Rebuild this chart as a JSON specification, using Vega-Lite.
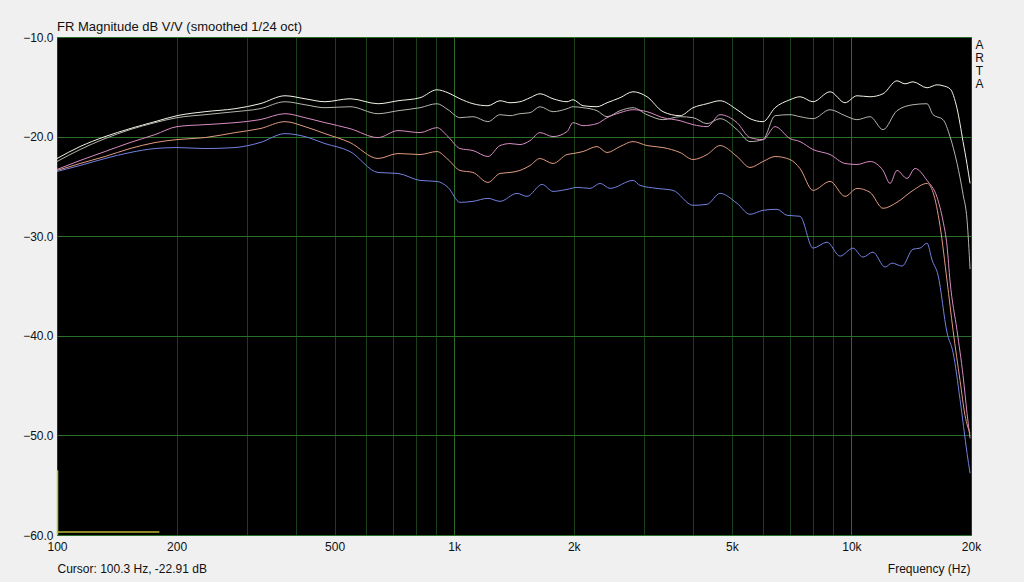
{
  "$schema": "https://vega.github.io/schema/vega-lite/v6.json",
  "autosize": {"type": "none"},
  "padding": {"left": 57, "top": 37, "right": 53, "bottom": 47},
  "width": 914,
  "height": 498,
  "background": "#f0f0f0",
  "title": {"text": "FR Magnitude dB V/V (smoothed 1/24 oct)", "anchor": "start", "frame": "group", "font": "Liberation Sans", "fontSize": 13, "fontWeight": "normal", "color": "#111111", "offset": 5, "dy": 18, "baseline": "alphabetic"},
  "config": {"view": {"fill": "#000000", "stroke": "#5cb85c", "strokeWidth": 1}},
  "datasets": {
    "curves": [
      {"s":"A","f":100,"db":-22.2},{"s":"A","f":114.3,"db":-21.0},{"s":"A","f":132.1,"db":-20.0},{"s":"A","f":152.7,"db":-19.2},{"s":"A","f":176.5,"db":-18.5},{"s":"A","f":200.5,"db":-17.9},{"s":"A","f":235.8,"db":-17.5},{"s":"A","f":280.6,"db":-17.2},{"s":"A","f":324.4,"db":-16.7},{"s":"A","f":375,"db":-15.9},{"s":"A","f":421,"db":-16.2},{"s":"A","f":472.8,"db":-16.5},{"s":"A","f":546.7,"db":-16.2},{"s":"A","f":643.1,"db":-16.7},{"s":"A","f":722,"db":-16.4},{"s":"A","f":820.1,"db":-16.1},{"s":"A","f":904.5,"db":-15.3},{"s":"A","f":964.7,"db":-15.6},{"s":"A","f":1034,"db":-16.2},{"s":"A","f":1115,"db":-16.7},{"s":"A","f":1216,"db":-16.9},{"s":"A","f":1304,"db":-16.4},{"s":"A","f":1382,"db":-16.6},{"s":"A","f":1464,"db":-16.5},{"s":"A","f":1552,"db":-16.1},{"s":"A","f":1644,"db":-15.7},{"s":"A","f":1773,"db":-16.2},{"s":"A","f":1923,"db":-16.5},{"s":"A","f":1991,"db":-16.3},{"s":"A","f":2110,"db":-16.9},{"s":"A","f":2288,"db":-17.0},{"s":"A","f":2425,"db":-16.6},{"s":"A","f":2615,"db":-16.1},{"s":"A","f":2819,"db":-15.5},{"s":"A","f":3058,"db":-16.0},{"s":"A","f":3355,"db":-17.5},{"s":"A","f":3703,"db":-17.9},{"s":"A","f":3993,"db":-17.1},{"s":"A","f":4330,"db":-16.7},{"s":"A","f":4669,"db":-16.4},{"s":"A","f":5152,"db":-17.3},{"s":"A","f":5555,"db":-18.2},{"s":"A","f":5991,"db":-18.5},{"s":"A","f":6424,"db":-17.1},{"s":"A","f":7004,"db":-16.3},{"s":"A","f":7421,"db":-16.0},{"s":"A","f":8004,"db":-16.5},{"s":"A","f":8835,"db":-15.5},{"s":"A","f":9636,"db":-16.6},{"s":"A","f":10330,"db":-15.9},{"s":"A","f":11140,"db":-16.0},{"s":"A","f":12010,"db":-15.7},{"s":"A","f":13020,"db":-14.4},{"s":"A","f":13640,"db":-14.7},{"s":"A","f":14290,"db":-14.5},{"s":"A","f":15500,"db":-15.1},{"s":"A","f":16430,"db":-14.8},{"s":"A","f":17010,"db":-14.9},{"s":"A","f":17710,"db":-15.2},{"s":"A","f":18450,"db":-17.2},{"s":"A","f":19100,"db":-20.5},{"s":"A","f":19550,"db":-22.8},{"s":"A","f":19890,"db":-24.7},
      {"s":"B","f":100,"db":-22.5},{"s":"B","f":114.3,"db":-21.3},{"s":"B","f":132.1,"db":-20.2},{"s":"B","f":152.7,"db":-19.3},{"s":"B","f":176.5,"db":-18.6},{"s":"B","f":200.5,"db":-18.1},{"s":"B","f":235.8,"db":-17.8},{"s":"B","f":280.6,"db":-17.5},{"s":"B","f":324.4,"db":-17.2},{"s":"B","f":375,"db":-16.5},{"s":"B","f":421,"db":-16.8},{"s":"B","f":472.8,"db":-17.1},{"s":"B","f":546.7,"db":-17.0},{"s":"B","f":643.1,"db":-17.7},{"s":"B","f":722,"db":-17.4},{"s":"B","f":820.1,"db":-17.1},{"s":"B","f":904.5,"db":-16.7},{"s":"B","f":964.7,"db":-17.3},{"s":"B","f":1034,"db":-18.1},{"s":"B","f":1115,"db":-18.0},{"s":"B","f":1216,"db":-18.5},{"s":"B","f":1304,"db":-17.8},{"s":"B","f":1382,"db":-17.9},{"s":"B","f":1464,"db":-17.7},{"s":"B","f":1552,"db":-17.6},{"s":"B","f":1644,"db":-17.0},{"s":"B","f":1773,"db":-17.5},{"s":"B","f":1923,"db":-17.2},{"s":"B","f":1991,"db":-17.0},{"s":"B","f":2110,"db":-17.1},{"s":"B","f":2288,"db":-17.4},{"s":"B","f":2425,"db":-18.0},{"s":"B","f":2615,"db":-17.4},{"s":"B","f":2819,"db":-17.1},{"s":"B","f":3058,"db":-17.8},{"s":"B","f":3355,"db":-18.3},{"s":"B","f":3703,"db":-18.0},{"s":"B","f":3993,"db":-18.1},{"s":"B","f":4330,"db":-18.7},{"s":"B","f":4669,"db":-18.2},{"s":"B","f":5152,"db":-19.3},{"s":"B","f":5555,"db":-20.5},{"s":"B","f":5991,"db":-20.3},{"s":"B","f":6424,"db":-17.9},{"s":"B","f":7004,"db":-17.8},{"s":"B","f":7421,"db":-18.0},{"s":"B","f":8004,"db":-18.2},{"s":"B","f":8835,"db":-17.3},{"s":"B","f":9636,"db":-17.9},{"s":"B","f":10330,"db":-18.3},{"s":"B","f":11140,"db":-18.0},{"s":"B","f":12010,"db":-19.3},{"s":"B","f":13020,"db":-17.4},{"s":"B","f":14290,"db":-16.8},{"s":"B","f":15500,"db":-16.7},{"s":"B","f":16050,"db":-17.8},{"s":"B","f":17010,"db":-18.3},{"s":"B","f":17710,"db":-20.0},{"s":"B","f":18450,"db":-22.7},{"s":"B","f":19100,"db":-25.8},{"s":"B","f":19550,"db":-28.4},{"s":"B","f":19890,"db":-33.3},
      {"s":"C","f":100,"db":-23.3},{"s":"C","f":114.3,"db":-22.4},{"s":"C","f":132.1,"db":-21.5},{"s":"C","f":152.7,"db":-20.6},{"s":"C","f":176.5,"db":-19.8},{"s":"C","f":200.5,"db":-19.0},{"s":"C","f":235.8,"db":-18.8},{"s":"C","f":280.6,"db":-18.6},{"s":"C","f":324.4,"db":-18.3},{"s":"C","f":375,"db":-17.7},{"s":"C","f":421,"db":-18.1},{"s":"C","f":472.8,"db":-18.6},{"s":"C","f":546.7,"db":-19.2},{"s":"C","f":643.1,"db":-20.1},{"s":"C","f":722,"db":-19.4},{"s":"C","f":820.1,"db":-19.6},{"s":"C","f":904.5,"db":-19.1},{"s":"C","f":964.7,"db":-20.0},{"s":"C","f":1034,"db":-21.2},{"s":"C","f":1115,"db":-21.4},{"s":"C","f":1216,"db":-22.0},{"s":"C","f":1304,"db":-20.9},{"s":"C","f":1382,"db":-20.7},{"s":"C","f":1464,"db":-20.8},{"s":"C","f":1552,"db":-20.4},{"s":"C","f":1644,"db":-19.6},{"s":"C","f":1773,"db":-20.0},{"s":"C","f":1923,"db":-19.5},{"s":"C","f":1991,"db":-18.6},{"s":"C","f":2110,"db":-18.9},{"s":"C","f":2288,"db":-18.7},{"s":"C","f":2425,"db":-18.1},{"s":"C","f":2615,"db":-17.6},{"s":"C","f":2819,"db":-17.3},{"s":"C","f":3058,"db":-17.5},{"s":"C","f":3355,"db":-18.1},{"s":"C","f":3703,"db":-18.4},{"s":"C","f":3993,"db":-18.8},{"s":"C","f":4330,"db":-19.0},{"s":"C","f":4669,"db":-17.8},{"s":"C","f":5152,"db":-18.6},{"s":"C","f":5555,"db":-20.1},{"s":"C","f":5991,"db":-20.3},{"s":"C","f":6424,"db":-19.0},{"s":"C","f":7004,"db":-20.2},{"s":"C","f":7421,"db":-20.5},{"s":"C","f":8004,"db":-21.3},{"s":"C","f":8835,"db":-21.8},{"s":"C","f":9636,"db":-22.7},{"s":"C","f":10330,"db":-22.8},{"s":"C","f":11140,"db":-22.5},{"s":"C","f":12010,"db":-23.4},{"s":"C","f":12510,"db":-24.7},{"s":"C","f":13020,"db":-23.4},{"s":"C","f":13800,"db":-24.2},{"s":"C","f":14460,"db":-23.2},{"s":"C","f":15500,"db":-24.4},{"s":"C","f":16430,"db":-26.1},{"s":"C","f":17010,"db":-28.5},{"s":"C","f":17410,"db":-31.0},{"s":"C","f":17710,"db":-34.5},{"s":"C","f":18450,"db":-39.5},{"s":"C","f":19100,"db":-44.0},{"s":"C","f":19550,"db":-47.8},{"s":"C","f":19890,"db":-50.3},
      {"s":"D","f":100,"db":-23.4},{"s":"D","f":114.3,"db":-22.7},{"s":"D","f":132.1,"db":-22.0},{"s":"D","f":152.7,"db":-21.2},{"s":"D","f":176.5,"db":-20.6},{"s":"D","f":200.5,"db":-20.3},{"s":"D","f":235.8,"db":-20.1},{"s":"D","f":280.6,"db":-19.6},{"s":"D","f":324.4,"db":-19.2},{"s":"D","f":375,"db":-18.5},{"s":"D","f":421,"db":-19.0},{"s":"D","f":472.8,"db":-19.7},{"s":"D","f":546.7,"db":-20.6},{"s":"D","f":643.1,"db":-22.2},{"s":"D","f":722,"db":-21.7},{"s":"D","f":820.1,"db":-21.8},{"s":"D","f":904.5,"db":-21.5},{"s":"D","f":964.7,"db":-22.3},{"s":"D","f":1034,"db":-23.4},{"s":"D","f":1115,"db":-23.6},{"s":"D","f":1216,"db":-24.6},{"s":"D","f":1304,"db":-23.7},{"s":"D","f":1382,"db":-23.6},{"s":"D","f":1464,"db":-23.4},{"s":"D","f":1552,"db":-22.9},{"s":"D","f":1644,"db":-22.2},{"s":"D","f":1773,"db":-22.7},{"s":"D","f":1923,"db":-21.8},{"s":"D","f":1991,"db":-21.7},{"s":"D","f":2110,"db":-21.5},{"s":"D","f":2288,"db":-21.0},{"s":"D","f":2425,"db":-21.6},{"s":"D","f":2615,"db":-21.0},{"s":"D","f":2819,"db":-20.5},{"s":"D","f":3058,"db":-20.9},{"s":"D","f":3355,"db":-21.1},{"s":"D","f":3703,"db":-21.6},{"s":"D","f":3993,"db":-22.3},{"s":"D","f":4330,"db":-21.8},{"s":"D","f":4669,"db":-20.9},{"s":"D","f":5152,"db":-22.0},{"s":"D","f":5555,"db":-23.1},{"s":"D","f":5991,"db":-22.5},{"s":"D","f":6424,"db":-22.0},{"s":"D","f":7004,"db":-22.3},{"s":"D","f":7421,"db":-23.2},{"s":"D","f":8004,"db":-25.4},{"s":"D","f":8835,"db":-24.5},{"s":"D","f":9636,"db":-26.0},{"s":"D","f":10330,"db":-25.2},{"s":"D","f":11140,"db":-25.6},{"s":"D","f":12010,"db":-27.2},{"s":"D","f":13020,"db":-26.6},{"s":"D","f":14290,"db":-25.4},{"s":"D","f":15500,"db":-24.7},{"s":"D","f":16050,"db":-25.6},{"s":"D","f":16720,"db":-29.0},{"s":"D","f":17410,"db":-34.5},{"s":"D","f":18030,"db":-39.5},{"s":"D","f":18770,"db":-44.5},{"s":"D","f":19320,"db":-48.0},{"s":"D","f":19890,"db":-49.8},
      {"s":"E","f":100,"db":-23.5},{"s":"E","f":114.3,"db":-22.9},{"s":"E","f":132.1,"db":-22.2},{"s":"E","f":152.7,"db":-21.6},{"s":"E","f":176.5,"db":-21.2},{"s":"E","f":200.5,"db":-21.1},{"s":"E","f":235.8,"db":-21.2},{"s":"E","f":280.6,"db":-21.1},{"s":"E","f":324.4,"db":-20.6},{"s":"E","f":375,"db":-19.7},{"s":"E","f":421,"db":-20.0},{"s":"E","f":472.8,"db":-20.7},{"s":"E","f":546.7,"db":-21.5},{"s":"E","f":643.1,"db":-23.6},{"s":"E","f":722,"db":-23.7},{"s":"E","f":820.1,"db":-24.4},{"s":"E","f":904.5,"db":-24.5},{"s":"E","f":964.7,"db":-25.1},{"s":"E","f":1034,"db":-26.6},{"s":"E","f":1115,"db":-26.5},{"s":"E","f":1216,"db":-26.2},{"s":"E","f":1304,"db":-26.5},{"s":"E","f":1439,"db":-25.7},{"s":"E","f":1525,"db":-26.0},{"s":"E","f":1664,"db":-24.8},{"s":"E","f":1773,"db":-25.5},{"s":"E","f":1923,"db":-25.3},{"s":"E","f":2038,"db":-25.1},{"s":"E","f":2198,"db":-25.2},{"s":"E","f":2329,"db":-24.7},{"s":"E","f":2468,"db":-25.2},{"s":"E","f":2819,"db":-24.4},{"s":"E","f":2936,"db":-24.9},{"s":"E","f":3240,"db":-25.2},{"s":"E","f":3555,"db":-25.4},{"s":"E","f":3993,"db":-26.9},{"s":"E","f":4330,"db":-26.8},{"s":"E","f":4669,"db":-25.7},{"s":"E","f":5152,"db":-26.7},{"s":"E","f":5555,"db":-27.8},{"s":"E","f":5991,"db":-27.4},{"s":"E","f":6497,"db":-27.3},{"s":"E","f":6885,"db":-27.9},{"s":"E","f":7421,"db":-28.0},{"s":"E","f":8004,"db":-31.2},{"s":"E","f":8680,"db":-30.6},{"s":"E","f":9361,"db":-32.0},{"s":"E","f":10090,"db":-31.2},{"s":"E","f":10690,"db":-32.1},{"s":"E","f":11330,"db":-31.6},{"s":"E","f":12150,"db":-33.1},{"s":"E","f":12660,"db":-32.7},{"s":"E","f":13410,"db":-33.0},{"s":"E","f":14290,"db":-31.3},{"s":"E","f":14880,"db":-31.2},{"s":"E","f":15500,"db":-30.7},{"s":"E","f":15960,"db":-32.4},{"s":"E","f":16520,"db":-33.9},{"s":"E","f":17410,"db":-39.7},{"s":"E","f":18030,"db":-41.7},{"s":"E","f":18770,"db":-46.4},{"s":"E","f":19550,"db":-51.8},{"s":"E","f":19890,"db":-53.8}
    ],
    "marker": [
      {"f": 100, "db": -59.7},
      {"f": 181, "db": -59.7}
    ],
    "cursor": [
      {"f": 100.3, "db": -53.5, "db2": -60}
    ]
  },
  "layer": [
    {
      "data": {"name": "curves"},
      "mark": {"type": "line", "strokeWidth": 1, "interpolate": "monotone", "clip": true},
      "encoding": {
        "x": {
          "field": "f", "type": "quantitative",
          "scale": {"type": "log", "domain": [100, 20000], "nice": false},
          "axis": {
            "values": [100,200,300,400,500,600,700,800,900,1000,2000,3000,4000,5000,6000,7000,8000,9000,10000,20000],
            "labelExpr": "datum.value==100?'100':datum.value==200?'200':datum.value==500?'500':datum.value==1000?'1k':datum.value==2000?'2k':datum.value==5000?'5k':datum.value==10000?'10k':datum.value==20000?'20k':''",
            "labelOverlap": false, "labelFlush": false,
            "ticks": false, "domain": false, "grid": true,
            "gridColor": {"condition": {"test": "datum.value==1000||datum.value==10000", "value": "#2c6a2c"}, "value": "#1a421a"},
            "labelFont": "Liberation Sans", "labelFontSize": 12, "labelColor": "#111111", "labelPadding": 6,
            "title": "Frequency (Hz)", "titleX": 913, "titleY": 33, "titleAlign": "right", "titleBaseline": "middle",
            "titleFont": "Liberation Sans", "titleFontSize": 12, "titleFontWeight": "normal", "titleColor": "#111111"
          }
        },
        "y": {
          "field": "db", "type": "quantitative",
          "scale": {"domain": [-60, -10], "nice": false},
          "axis": {
            "values": [-60,-50,-40,-30,-20,-10], "format": ".1f",
            "ticks": false, "domain": false, "grid": true, "gridColor": "#2a6e2a",
            "labelFont": "Liberation Sans", "labelFontSize": 12, "labelColor": "#111111", "labelPadding": 4,
            "title": "Cursor: 100.3 Hz, -22.91 dB", "titleAngle": 0, "titleX": 0, "titleY": 531, "titleAlign": "left", "titleBaseline": "middle",
            "titleFont": "Liberation Sans", "titleFontSize": 12, "titleFontWeight": "normal", "titleColor": "#111111"
          }
        },
        "color": {
          "field": "s", "type": "nominal",
          "scale": {"domain": ["A","B","C","D","E"], "range": ["#f2f2e6","#b4b4ac","#d88cc4","#e09a80","#7480e0"]},
          "legend": null
        }
      }
    },
    {
      "data": {"name": "marker"},
      "mark": {"type": "line", "strokeWidth": 1.5, "color": "#b8b832", "clip": true},
      "encoding": {
        "x": {"field": "f", "type": "quantitative", "scale": {"type": "log", "domain": [100, 20000], "nice": false}},
        "y": {
          "field": "db", "type": "quantitative", "scale": {"domain": [-60, -10], "nice": false},
          "axis": {
            "orient": "right", "labels": false, "ticks": false, "domain": false, "grid": false,
            "title": ["A","R","T","A"], "titleAngle": 0, "titleX": 8, "titleY": 2, "titleAlign": "center", "titleBaseline": "top",
            "titleFont": "Liberation Sans", "titleFontSize": 12, "titleFontWeight": "normal", "titleColor": "#111111", "titleLineHeight": 13
          }
        }
      }
    },
    {
      "data": {"name": "cursor"},
      "mark": {"type": "rule", "strokeWidth": 1.5, "color": "#a8c840"},
      "encoding": {
        "x": {"field": "f", "type": "quantitative"},
        "y": {"field": "db", "type": "quantitative", "axis": null},
        "y2": {"field": "db2"}
      }
    }
  ],
  "resolve": {"axis": {"y": "independent"}}
}
